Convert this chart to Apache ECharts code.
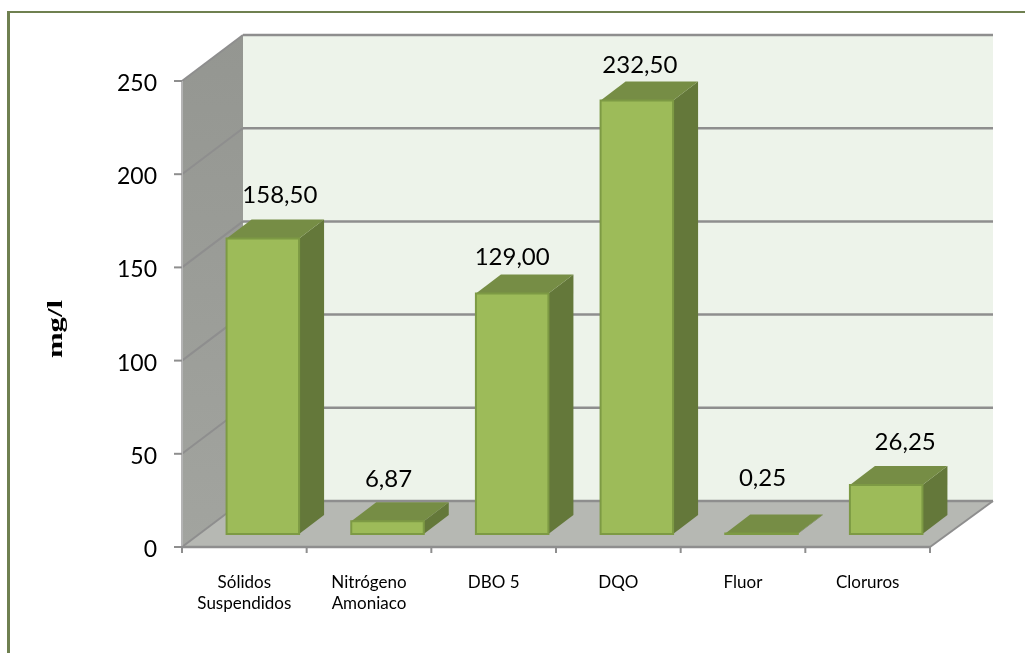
<!DOCTYPE html>
<html><head><meta charset="utf-8">
<style>html,body{margin:0;padding:0;background:#fff}#c{width:1025px;height:653px}</style>
<script src="https://cdn.jsdelivr.net/npm/echarts@6/dist/echarts.min.js"></script>
</head><body><div id="c"></div>
<script>
const categories = ['Sólidos\nSuspendidos','Nitrógeno\nAmoniaco','DBO 5','DQO','Fluor','Cloruros'];
const values = [158.5, 6.87, 129, 232.5, 0.25, 26.25];
const valueLabels = ['158,50','6,87','129,00','232,50','0,25','26,25'];
const yTicks = [0,50,100,150,200,250];
// layout constants
const WALL_L = [61,-46], WALL_R = [63,-46], BAR_OFF = 18.5, BAR_UP = 13, BAR_W = 72.5, DEPTH = [25,-19];
const labelShift = [[17,-43],[1,-42],[0,-36],[3,-35],[1,-55],[19,-43]];
const c = echarts.init(document.getElementById('c'), null, {renderer:'canvas'});
const poly = (pts, fill, z2) => ({type:'polygon', shape:{points:pts}, z2, style:{fill, stroke:null}});
const line = (a,b,color,w,z2) => ({type:'line', shape:{x1:a[0],y1:a[1],x2:b[0],y2:b[1]}, z2, style:{stroke:color,lineWidth:w}});
const add = (p,d) => [p[0]+d[0],p[1]+d[1]];
const GRID = '#8e8e8e';

function renderScene(params, api){
  const n = categories.length;
  const L0 = api.coord([0,0]), R0 = api.coord([n-1,0]);
  const step = (R0[0]-L0[0])/(n-1);
  const x0 = L0[0]-step/2, x1 = R0[0]+step/2, y0 = L0[1];
  const top = api.coord([0,250])[1];
  const kids = [];
  const BL=[x0,y0], BR=[x1,y0], TL=[x0,top], TR=[x1,top];
  const sideGrad = new echarts.graphic.LinearGradient(0,0,0,1,[{offset:0,color:'#949691'},{offset:1,color:'#a2a49f'}]);
  kids.push(poly([add(BL,WALL_L),add(BR,WALL_R),add(TR,WALL_R),add(TL,WALL_L)],'#edf3ea',1));
  kids.push(poly([BL,add(BL,WALL_L),add(TL,WALL_L),TL],sideGrad,1));
  kids.push(poly([BL,BR,add(BR,WALL_R),add(BL,WALL_L)],'#b6b8b3',1));
  yTicks.forEach(t=>{
    const y = api.coord([0,t])[1];
    kids.push(line(add([x0,y],WALL_L),add([x1,y],WALL_R),GRID,2.5,2));
    kids.push(line([x0,y],add([x0,y],WALL_L),GRID,2,2));
  });
  kids.push(line(BL,TL,'#b4b4b4',2,3));
  yTicks.forEach(t=>{
    const y = api.coord([0,t])[1];
    kids.push(line([x0-8,y],[x0,y],GRID,2,4));
  });
  kids.push(line(BL,BR,GRID,2.5,3));
  kids.push(line(BR,add(BR,WALL_R),GRID,2,3));
  for(let i=0;i<=n;i++){
    const x = x0+i*step;
    kids.push(line([x,y0],[x,y0+6],GRID,2,3));
  }
  return {type:'group', children:kids};
}

function renderBar(params, api){
  const i = api.value(0), v = api.value(1);
  const b = api.coord([i,0]), t = api.coord([i,v]);
  const lx = b[0]-BAR_W/2+BAR_OFF, rx = lx+BAR_W, by = b[1]-BAR_UP, ty = t[1]-BAR_UP;
  const cx = (lx+rx)/2, s = labelShift[i];
  const kids = [
    poly([[rx,by],add([rx,by],DEPTH),add([rx,ty],DEPTH),[rx,ty]],'#64783a',10),
    poly([[lx,ty],[rx,ty],add([rx,ty],DEPTH),add([lx,ty],DEPTH)],'#768d45',11),
    {type:'rect', shape:{x:lx,y:ty,width:BAR_W,height:by-ty}, z2:12, style:{fill:by-ty>2?'#9dbb59':'#768d45',stroke:'#7d9a44',lineWidth:2}},
    {type:'text', z2:20, style:{text:valueLabels[i], x:cx+s[0], y:ty+s[1],
      align:'center', verticalAlign:'middle', fontFamily:'Lato', fontSize:24, fill:'#000'}}
  ];
  return {type:'group', children:kids};
}

c.setOption({
  animation:false,
  graphic:[
    {type:'line', shape:{x1:8.5,y1:653,x2:8.5,y2:11}, style:{stroke:'#6f8050',lineWidth:3}},
    {type:'line', shape:{x1:7,y1:12,x2:1025,y2:12}, style:{stroke:'#6f8050',lineWidth:2}},
    {type:'text', rotation:Math.PI/2, scaleX:1.4, x:56, y:329, style:{text:'mg/l', align:'center', verticalAlign:'middle', fontFamily:'Liberation Serif', fontWeight:'bold', fontSize:22, fill:'#000'}}
  ],
  grid:{left:182, right:95, top:81, bottom:106, containLabel:false},
  xAxis:{type:'category', data:categories, boundaryGap:true,
    axisLine:{show:false}, axisTick:{show:false},
    axisLabel:{interval:0, color:'#000', fontFamily:'Lato', fontSize:17, lineHeight:21, margin:25}},
  yAxis:{type:'value', min:0, max:250, interval:50,
    axisLine:{show:false}, axisTick:{show:false}, splitLine:{show:false},
    axisLabel:{color:'#000', fontFamily:'Lato', fontSize:23, lineHeight:23, margin:25, verticalAlign:'top', padding:[-9,0,0,0]}},
  series:[
    {type:'custom', renderItem:renderScene, data:[[0,0]], silent:true, z:1, clip:false, encode:{x:0,y:1}},
    {type:'custom', renderItem:renderBar, data:values.map((v,i)=>[i,v]), z:2, clip:false, encode:{x:0,y:1}}
  ]
});
</script></body></html>
